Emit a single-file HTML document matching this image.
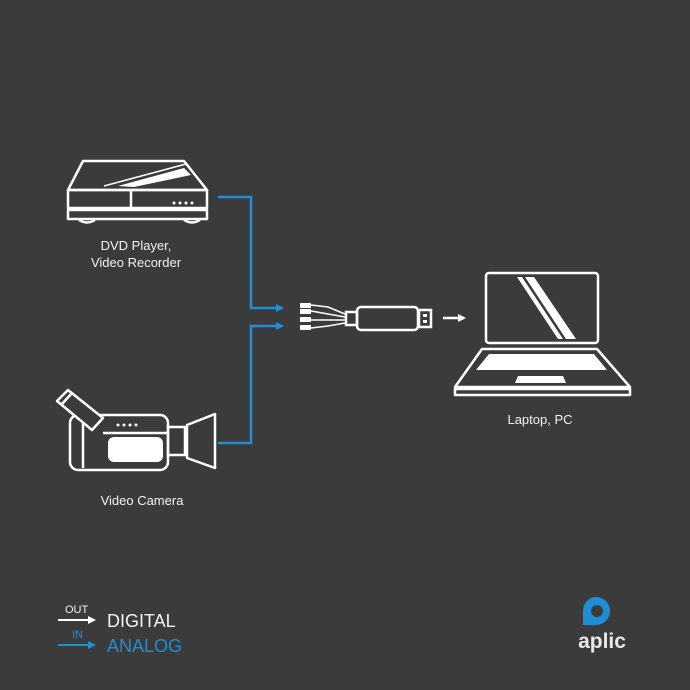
<!DOCTYPE html>
<html><head><meta charset="utf-8"><style>
html,body{margin:0;padding:0;background:#3b3b3b;}
svg{display:block}
text{font-family:"Liberation Sans",sans-serif;fill:#f2f2f2}
</style></head><body>
<svg width="690" height="690" viewBox="0 0 690 690" xmlns="http://www.w3.org/2000/svg">
<rect width="690" height="690" fill="#3b3b3b"/>
<defs>
<marker id="ab" markerWidth="8" markerHeight="8" refX="6" refY="4" orient="auto" markerUnits="userSpaceOnUse"><path d="M0,0 L8,4 L0,8 Z" fill="#1e8fd6"/></marker>
<marker id="aw" markerWidth="8" markerHeight="8" refX="6" refY="4" orient="auto" markerUnits="userSpaceOnUse"><path d="M0,0 L8,4 L0,8 Z" fill="#fff"/></marker>
</defs>
<!-- DVD player -->
<g fill="none" stroke="#fff" stroke-width="2.5" stroke-linejoin="round">
<path d="M83,161 L184,161 L207,190 L68,190 Z"/>
<rect x="68" y="190" width="139" height="18"/>
<line x1="131" y1="191" x2="131" y2="207"/>
<rect x="68" y="210" width="139" height="9"/>
<path d="M79,220 q8,5 16,0 M184,220 q8,5 16,0"/>
</g>
<path d="M118,186 L184,168 L191,175 L134,187 Z" fill="#fff"/>
<path d="M104,186 L186,164" stroke="#fff" stroke-width="1.5"/>
<g fill="#fff"><circle cx="174" cy="203" r="1.5"/><circle cx="180" cy="203" r="1.5"/><circle cx="186" cy="203" r="1.5"/><circle cx="192" cy="203" r="1.5"/></g>
<text x="136" y="250" font-size="13" text-anchor="middle">DVD Player,</text>
<text x="136" y="267" font-size="13" text-anchor="middle">Video Recorder</text>
<!-- camera -->
<g fill="none" stroke="#fff" stroke-width="2.5" stroke-linejoin="round">
<rect x="70" y="415" width="98" height="55" rx="8"/>
<line x1="83" y1="420" x2="83" y2="468"/>
<line x1="103" y1="433" x2="168" y2="433"/>
<rect x="168" y="427" width="17" height="28"/>
<path d="M187,425 L215,414 L215,468 L187,458 Z"/>
<path d="M57,401 L68,390 L103,418 L92,430 Z" fill="#3b3b3b"/>
<line x1="72" y1="393" x2="62" y2="404"/>
</g>
<rect x="108" y="437" width="55" height="25" rx="6" fill="#fff"/>
<g fill="#fff"><circle cx="118" cy="425" r="1.5"/><circle cx="124" cy="425" r="1.5"/><circle cx="130" cy="425" r="1.5"/><circle cx="136" cy="425" r="1.5"/></g>
<text x="142" y="505" font-size="13" text-anchor="middle">Video Camera</text>
<!-- blue lines -->
<g fill="none" stroke="#1e8fd6" stroke-width="2.5">
<path d="M218,197 L251,197 L251,308 L282,308" marker-end="url(#ab)"/>
<path d="M218,443 L251,443 L251,326 L282,326" marker-end="url(#ab)"/>
</g>
<!-- adapter -->
<g fill="none" stroke="#fff" stroke-width="1.5">
<path d="M311,305 L328,307 L345,314 M311,311 L345,317 M311,320 L345,320 M311,328 L328,326 L345,323"/>
</g>
<g fill="#fff"><rect x="300" y="303" width="11" height="5"/><rect x="300" y="309" width="11" height="5"/><rect x="300" y="317" width="11" height="5"/><rect x="300" y="325" width="11" height="5"/></g>
<g fill="none" stroke="#fff" stroke-width="2.5">
<rect x="346" y="312" width="11" height="13"/>
<rect x="357" y="307" width="61" height="23" rx="4"/>
<rect x="419" y="310" width="12" height="17"/>
</g>
<g fill="#fff"><rect x="423" y="314" width="4" height="3"/><rect x="423" y="320" width="4" height="3"/></g>
<line x1="443" y1="318" x2="464" y2="318" stroke="#fff" stroke-width="2.5" marker-end="url(#aw)"/>
<!-- laptop -->
<g fill="none" stroke="#fff" stroke-width="2.5" stroke-linejoin="round">
<rect x="486" y="273" width="112" height="70" rx="3"/>
<path d="M482,349 L597,349 L630,387 L455,387 Z"/>
<rect x="455" y="389" width="175" height="6"/>
</g>
<path d="M517,277 L522,277 L563,339 L558,339 Z M525,277 L534,277 L576,339 L566,339 Z" fill="#fff"/>
<path d="M489,354 L594,354 L607,370 L476,370 Z" fill="#fff"/>
<path d="M518,376 L563,376 L566,383 L515,383 Z" fill="#fff"/>
<text x="540" y="424" font-size="13" text-anchor="middle">Laptop, PC</text>
<!-- legend -->
<text x="65" y="613" font-size="11">OUT</text>
<line x1="58" y1="620" x2="94" y2="620" stroke="#fff" stroke-width="2" marker-end="url(#aw)"/>
<text x="107" y="627" font-size="18">DIGITAL</text>
<text x="72" y="638" font-size="11" style="fill:#1e8fd6">IN</text>
<line x1="58" y1="645" x2="94" y2="645" stroke="#1e8fd6" stroke-width="2" marker-end="url(#ab)"/>
<text x="107" y="652" font-size="18" style="fill:#1e8fd6">ANALOG</text>
<!-- logo -->
<path d="M596,597 a14,14 0 1 1 0,28 L583,625 L583,611 a13,14 0 0 1 13,-14 Z" fill="#1e8fd6"/>
<circle cx="597" cy="611" r="6" fill="#3b3b3b"/>
<text x="602" y="648" font-size="21" font-weight="bold" text-anchor="middle" style="fill:#e8e8e8">aplic</text>
</svg>
</body></html>
